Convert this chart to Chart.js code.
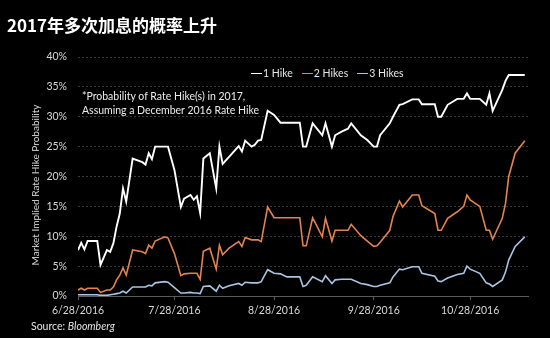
<!DOCTYPE html>
<html>
<head>
<meta charset="utf-8">
<script src="https://cdn.jsdelivr.net/npm/chart.js@4.4.1/dist/chart.umd.min.js"></script>
<style>
  html, body { margin: 0; padding: 0; background: #000; }
  #wrap { position: relative; width: 550px; height: 338px; background: #000; overflow: hidden; font-family: Lato, "Liberation Sans", sans-serif; }
  #wrap canvas { position: absolute; left: 0; top: 0; }
  .txt { position: absolute; white-space: nowrap; color: #e6e6e6; }
  #title { left: 7px; top: 14px; font: bold 17px/22px "Noto Sans CJK SC", sans-serif; color: #fff; }
  #note { left: 82px; top: 90px; font-size: 10.5px; line-height: 13.5px; color: #ececec; }
  #legend { left: 251px; top: 67px; font-size: 10.5px; line-height: 12px; color: #e6e6e6; }
  #legend span.item { margin-right: 9px; }
  #legend i.mark { display: inline-block; width: 11px; height: 0; border-top: 1.6px solid; vertical-align: middle; margin-right: 1px; position: relative; top: -1px; }
  #ytitle { left: -65px; top: 179px; width: 200px; text-align: center; font-size: 10px; line-height: 12px; color: #d9d9d9; transform: rotate(-90deg); }
  #source { left: 31px; top: 320px; font-size: 10.5px; line-height: 13px; color: #e6e6e6; }
</style>
</head>
<body>
<div id="wrap">
  <canvas id="chart" width="550" height="338"></canvas>
  <div class="txt" id="title">2017年多次加息的概率上升</div>
  <div class="txt" id="note">*Probability of Rate Hike(s) in 2017,<br>Assuming a December 2016 Rate Hike</div>
  <div class="txt" id="legend"></div>
  <div class="txt" id="ytitle">Market Implied Rate Hike Probability</div>
  <div class="txt" id="source">Source: <i>Bloomberg</i></div>
</div>
<script>
// days counted from 6/28/2016
const days = [0, 1, 2, 3, 6, 7, 9, 10, 11, 12, 13, 14, 15, 17, 20, 21, 22, 23, 24, 27, 28, 30,
  32, 33, 35, 36, 37, 38, 39, 41, 43, 44, 45, 47, 50, 51, 52, 54, 55, 56, 57, 59, 61, 63, 65,
  69, 70, 71, 73, 76, 77, 79, 80, 82, 84, 85, 88, 90, 92, 93, 94, 97, 98, 100, 101, 104, 106,
  107, 111, 112, 113, 115, 118, 120, 121, 122, 125, 127, 128, 129, 132, 133, 134, 136, 139];

const hike1 = [7.7, 8.9, 7.8, 9.2, 9.2, 5.2, 7.7, 7.4, 8.8, 11.6, 13.8, 18.0, 15.8, 23.0, 22.4, 22.0, 23.9, 22.9, 25.0, 25.0, 25.0, 21.1,
  14.9, 16.3, 16.9, 16.1, 16.7, 13.9, 23.0, 23.9, 18.0, 25.0, 22.1, 23.3, 25.1, 24.2, 26.0, 25.0, 25.3, 26.0, 26.1, 31.0, 30.3, 29.0, 29.0,
  29.0, 25.0, 25.0, 28.9, 26.9, 28.9, 25.0, 26.9, 27.5, 28.0, 28.9, 26.9, 26.1, 25.0, 25.0, 26.9, 28.9, 30.0, 32.0, 32.1, 32.9, 32.9,
  32.1, 32.1, 30.0, 30.0, 32.0, 33.0, 33.0, 33.9, 33.0, 33.0, 32.0, 33.9, 31.0, 34.5, 36.0, 37.0, 37.0, 37.0];

const hike2 = [1.0, 1.3, 1.0, 1.3, 1.3, 0.6, 1.0, 1.0, 1.5, 2.7, 3.5, 4.7, 3.5, 7.7, 7.4, 7.1, 8.5, 8.0, 9.2, 9.9, 9.7, 7.1,
  3.4, 3.7, 3.8, 3.8, 3.8, 2.8, 7.5, 8.0, 4.5, 8.5, 6.9, 8.0, 9.1, 8.3, 9.8, 9.4, 9.4, 9.4, 9.1, 14.9, 13.1, 13.1, 13.1,
  13.1, 8.4, 8.4, 13.1, 9.9, 13.0, 9.2, 11.0, 11.0, 11.0, 12.0, 10.1, 9.2, 8.3, 8.4, 9.0, 11.0, 13.3, 15.9, 14.9, 16.9, 16.9,
  15.1, 13.8, 11.0, 11.0, 13.0, 14.1, 15.0, 16.9, 16.1, 15.0, 11.0, 11.0, 9.5, 13.0, 15.5, 20.0, 23.9, 26.0];

const hike3 = [0.2, 0.2, 0.2, 0.2, 0.2, 0.1, 0.1, 0.2, 0.3, 0.4, 0.5, 0.8, 0.5, 1.5, 1.5, 1.5, 1.8, 1.7, 2.2, 2.4, 2.3, 1.4,
  0.5, 0.5, 0.6, 0.5, 0.5, 0.4, 1.6, 1.7, 0.8, 1.8, 1.3, 1.7, 2.1, 1.8, 2.3, 2.2, 2.2, 2.2, 2.4, 4.4, 3.8, 3.7, 3.2,
  3.2, 1.6, 1.8, 3.2, 2.4, 3.4, 2.1, 2.7, 2.8, 2.8, 2.8, 2.1, 1.9, 1.6, 1.6, 1.8, 2.2, 3.2, 4.5, 4.4, 4.9, 4.9,
  3.8, 3.3, 2.5, 2.4, 3.0, 3.6, 3.8, 5.0, 4.5, 3.8, 2.2, 2.0, 1.6, 2.7, 4.0, 6.0, 8.3, 9.9];

const seriesNames = ['1 Hike', '2 Hikes', '3 Hikes'];
const seriesColors = ['#ffffff', '#e3844f', '#a9c5e3'];

const tickDays = [0, 30, 61, 92, 122];
const tickLabels = ['6/28/2016', '7/28/2016', '8/28/2016', '9/28/2016', '10/28/2016'];

const axisFont = { family: 'Lato', size: 10.5 };
const axisColor = '#d9d9d9';

function toPoints(values) {
  return days.map((d, i) => ({ x: d, y: values[i] }));
}

const datasets = [hike1, hike2, hike3].map((vals, i) => ({
  label: seriesNames[i],
  data: toPoints(vals),
  borderColor: seriesColors[i],
  backgroundColor: seriesColors[i],
  borderWidth: i === 0 ? 1.9 : 1.6,
  pointRadius: 0,
  tension: 0,
  fill: false
}));

// html legend, short line + name
document.getElementById('legend').innerHTML = seriesNames.map((n, i) =>
  `<span class="item"><i class="mark" style="border-color:${seriesColors[i]}"></i>${n}</span>`).join('');

new Chart(document.getElementById('chart'), {
  type: 'line',
  data: { datasets },
  options: {
    responsive: false,
    animation: false,
    layout: { padding: { top: 57, right: 22, left: 0, bottom: 0 } },
    plugins: {
      legend: { display: false },
      title: { display: false },
      tooltip: { enabled: false }
    },
    scales: {
      x: {
        type: 'linear',
        min: 0,
        max: 140,
        afterBuildTicks: (axis) => { axis.ticks = tickDays.map(v => ({ value: v })); },
        afterFit: (axis) => { axis.height = 42; },
        ticks: {
          autoSkip: false,
          maxRotation: 0,
          padding: 4,
          color: axisColor,
          font: axisFont,
          callback: (v) => tickLabels[tickDays.indexOf(v)]
        },
        grid: { drawOnChartArea: false, drawTicks: true, tickLength: 4, color: '#5a5a5a' },
        border: { display: true, color: '#5a5a5a', width: 1 }
      },
      y: {
        min: 0,
        max: 40,
        afterFit: (axis) => { axis.width = 78; },
        ticks: {
          stepSize: 5,
          padding: 11,
          color: axisColor,
          font: axisFont,
          callback: (v) => v + '%'
        },
        grid: {
          drawTicks: false,
          color: (c) => (c.tick && c.tick.value === 0) ? 'rgba(0,0,0,0)' : '#3c3c3c'
        },
        border: { display: false, dash: [2, 2] }
      }
    }
  }
});
</script>
</body>
</html>
